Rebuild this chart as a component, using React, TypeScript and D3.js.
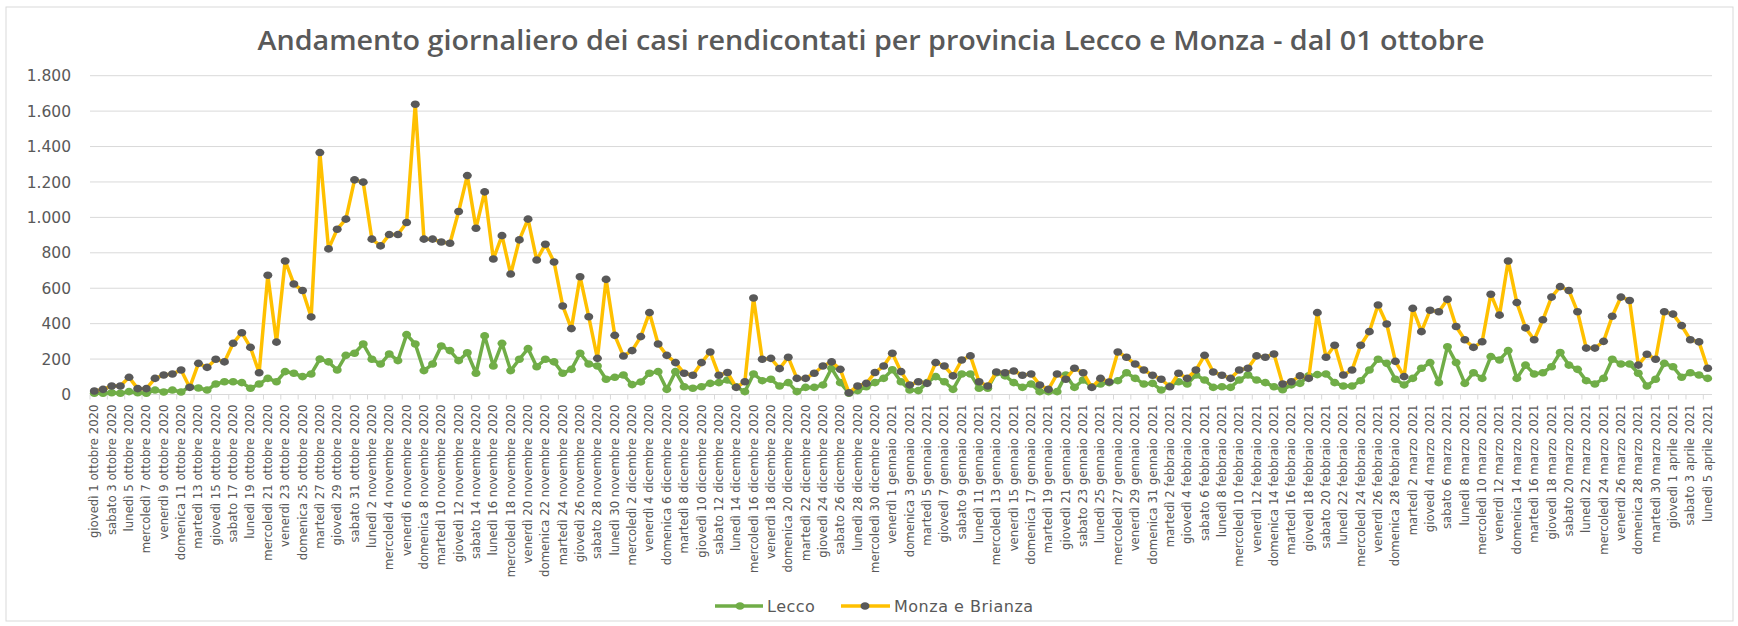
import React from "react";
import * as d3 from "d3";

const START_DATE = new Date(2020, 9, 1);
const N_DAYS = 187;

const lecco: number[] = [
  7, 7, 10, 7, 16, 10, 7, 25, 14, 25, 14, 44, 37, 25, 59, 72, 72, 67, 35, 59,
  91, 72, 129, 120, 101, 116, 200, 184, 138, 221, 233, 285, 199, 172, 229, 191, 338, 285, 135, 172,
  274, 248, 191, 236, 120, 331, 161, 289, 135, 199, 259, 157, 199, 184, 120, 142, 233, 172, 161, 86,
  97, 110, 56, 71, 120, 129, 29, 129, 44, 35, 44, 63, 67, 82, 44, 16, 116, 78, 86, 48,
  67, 16, 40, 40, 54, 148, 67, 7, 22, 44, 67, 91, 140, 72, 25, 22, 67, 101, 72, 29,
  116, 116, 35, 35, 123, 105, 67, 40, 59, 16, 16, 16, 110, 40, 82, 44, 59, 67, 78, 123,
  91, 59, 63, 25, 48, 72, 59, 110, 82, 40, 44, 40, 82, 110, 82, 67, 44, 27, 54, 63,
  105, 112, 116, 67, 48, 48, 78, 138, 199, 176, 86, 54, 91, 148, 180, 67, 270, 180, 63, 123,
  91, 214, 195, 248, 91, 166, 116, 123, 157, 237, 166, 142, 78, 59, 91, 199, 172, 172, 120, 48,
  86, 176, 157, 97, 123, 110, 91,
];

const monza: number[] = [
  20, 29, 48, 48, 97, 33, 33, 91, 110, 116, 138, 40, 176, 153, 199, 184, 289, 349, 266, 123,
  673, 296, 754, 624, 587, 438, 1366, 822, 933, 990, 1212, 1199, 877, 839, 903, 903, 971, 1639, 877, 877,
  861, 854, 1033, 1236, 939, 1144, 765, 897, 680, 873, 990, 759, 848, 748, 500, 372, 665, 439, 204, 650,
  334, 217, 248, 327, 462, 285, 221, 180, 120, 109, 180, 240, 109, 124, 40, 72, 545, 199, 204, 146,
  210, 91, 91, 120, 161, 184, 142, 10, 48, 63, 124, 161, 233, 129, 54, 72, 63, 180, 161, 105,
  195, 218, 72, 48, 127, 123, 133, 109, 116, 54, 29, 116, 86, 148, 123, 40, 91, 71, 240, 210,
  172, 138, 109, 86, 44, 120, 91, 138, 221, 127, 109, 91, 138, 148, 218, 210, 229, 59, 72, 105,
  91, 462, 210, 278, 110, 138, 278, 355, 505, 398, 187, 101, 486, 355, 476, 467, 537, 384, 309, 266,
  298, 566, 448, 754, 519, 376, 309, 422, 550, 609, 587, 467, 262, 262, 300, 442, 550, 531, 166, 227,
  199, 467, 454, 389, 309, 297, 148,
];

const yTicks = [0, 200, 400, 600, 800, 1000, 1200, 1400, 1600, 1800];

const TITLE = "Andamento giornaliero dei casi rendicontati per provincia Lecco e Monza - dal 01 ottobre";
const SERIES_NAMES = ["Lecco", "Monza e Brianza"];

const itLocale = d3.timeFormatLocale({
  dateTime: "%A %e %B %Y, %X",
  date: "%d/%m/%Y",
  time: "%H:%M:%S",
  periods: ["", ""],
  days: ["domenica", "lunedì", "martedì", "mercoledì", "giovedì", "venerdì", "sabato"],
  shortDays: ["dom", "lun", "mar", "mer", "gio", "ven", "sab"],
  months: ["gennaio", "febbraio", "marzo", "aprile", "maggio", "giugno", "luglio", "agosto", "settembre", "ottobre", "novembre", "dicembre"],
  shortMonths: ["gen", "feb", "mar", "apr", "mag", "giu", "lug", "ago", "set", "ott", "nov", "dic"],
});
const fmtDate = itLocale.format("%A %-d %B %Y");
const numLocale = d3.formatLocale({ decimal: ",", thousands: ".", grouping: [3], currency: ["€", ""] });
const fmtNum = numLocale.format(",d");

const categories = d3.range(N_DAYS).map((i) => fmtDate(d3.timeDay.offset(START_DATE, i)));

const W = 1738;
const H = 626;
const X0 = 90;
const X1 = 1712;
const Y0 = 394.5;
const Y1 = 75.7;

const GREEN = "#70AD47";
const YELLOW = "#FFC000";
const DARK = "#595959";
const TEXT = "#595959";
const GRID = "#D9D9D9";

export default function App() {
  const x = d3.scalePoint<string>().domain(categories).range([X0, X1]).padding(0.5);
  const y = d3.scaleLinear().domain([0, 1800]).range([Y0, Y1]);
  const line = d3
    .line<number>()
    .x((_, i) => x(categories[i]) as number)
    .y((d) => y(d));

  const step = x.step();

  return (
    <svg
      width={W}
      height={H}
      style={{ position: "absolute", left: 0, top: 0, background: "#fff" }}
      fontFamily="'Liberation Sans Narrow', 'DejaVu Sans Condensed', sans-serif"
    >
      <rect x={6} y={7} width={1727} height={614} fill="#fff" stroke="#D9D9D9" strokeWidth={1} />
      <text
        x={871}
        y={50}
        textAnchor="middle"
        fontSize={27}
        fontWeight={600}
        fill={TEXT}
        fontFamily="'Open Sans', sans-serif"
        textLength={1227}
        lengthAdjust="spacingAndGlyphs"
      >
        {TITLE}
      </text>

      {yTicks.map((t) => (
        <g key={t}>
          {t > 0 && (
            <line x1={X0} x2={X1} y1={y(t)} y2={y(t)} stroke={GRID} strokeWidth={1} />
          )}
          <text
            x={71}
            y={y(t)}
            dy="0.36em"
            textAnchor="end"
            fontSize={15.5}
            fill={TEXT}
            fontFamily="'DejaVu Sans', sans-serif"
          >
            {fmtNum(t)}
          </text>
        </g>
      ))}

      <line x1={X0} x2={X1} y1={Y0} y2={Y0} stroke={GRID} strokeWidth={1} />
      {d3.range(0, N_DAYS + 1, 2).map((k) => {
        const xx = X0 + k * step;
        return <line key={k} x1={xx} x2={xx} y1={Y0} y2={Y0 + 5} stroke={GRID} strokeWidth={1} />;
      })}

      {categories.map((c, i) =>
        i % 2 === 0 ? (
          <text
            key={c}
            transform={`translate(${(x(c) as number) + 4},${Y0 + 10}) rotate(-90)`}
            textAnchor="end"
            fontSize={13}
            fill={TEXT}
          >
            {c}
          </text>
        ) : null
      )}

      <path d={line(lecco) || ""} fill="none" stroke={GREEN} strokeWidth={3.5} strokeLinejoin="round" />
      {lecco.map((v, i) => (
        <ellipse key={"l" + i} cx={x(categories[i]) as number} cy={y(v)} rx={4.5} ry={3.8} fill={GREEN} />
      ))}

      <path d={line(monza) || ""} fill="none" stroke={YELLOW} strokeWidth={3.5} strokeLinejoin="round" />
      {monza.map((v, i) => (
        <ellipse key={"m" + i} cx={x(categories[i]) as number} cy={y(v)} rx={4.5} ry={3.8} fill={DARK} />
      ))}

      <g fontFamily="'DejaVu Sans', sans-serif" fontSize={16} fill={TEXT} letterSpacing={0.5}>
        <line x1={715} x2={763} y1={606} y2={606} stroke={GREEN} strokeWidth={3.5} />
        <ellipse cx={740} cy={606} rx={4.5} ry={3.8} fill={GREEN} />
        <text x={767} y={606} dy="0.36em">{SERIES_NAMES[0]}</text>
        <line x1={841} x2={890} y1={606} y2={606} stroke={YELLOW} strokeWidth={3.5} />
        <ellipse cx={865} cy={606} rx={4.5} ry={3.8} fill={DARK} />
        <text x={894} y={606} dy="0.36em">{SERIES_NAMES[1]}</text>
      </g>
    </svg>
  );
}
